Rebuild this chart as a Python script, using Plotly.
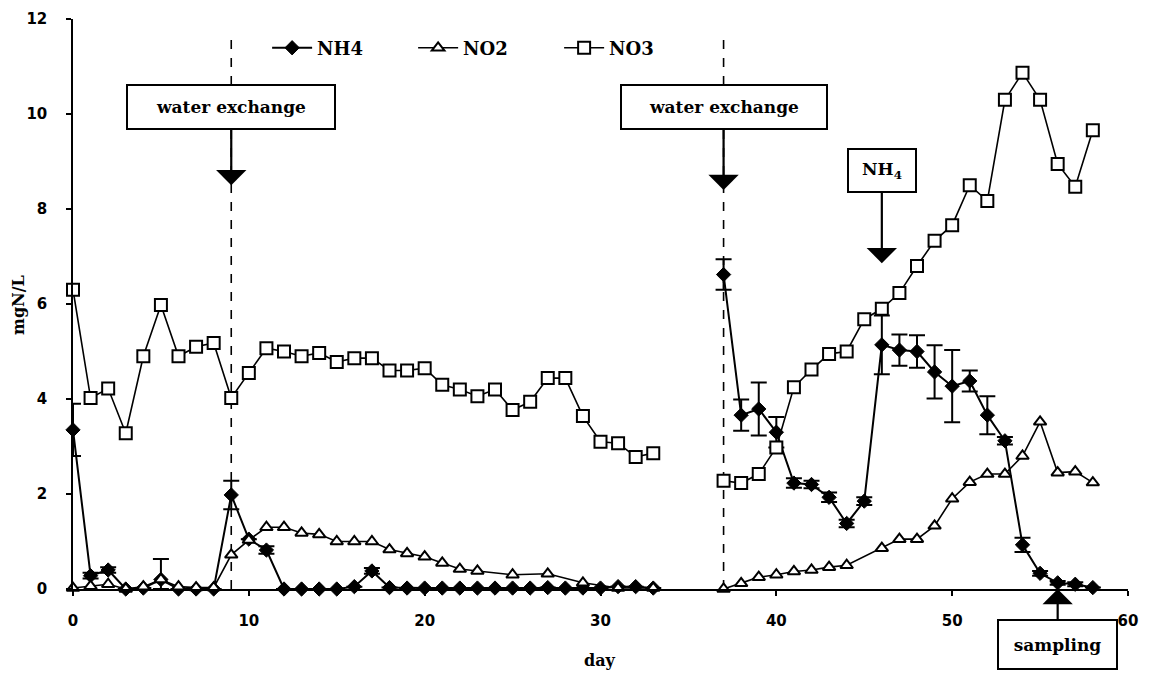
import plotly.graph_objects as go

# ---------------- data ----------------
nh4_days = list(range(0, 34)) + [None] + list(range(37, 59))
nh4_vals = [3.35, 0.28, 0.40, 0.00, 0.02, 0.20, 0.00, 0.00, 0.00, 1.98,
            1.05, 0.82, 0.00, 0.00, 0.00, 0.00, 0.05, 0.38, 0.03, 0.02,
            0.02, 0.02, 0.02, 0.02, 0.02, 0.02, 0.02, 0.03, 0.02, 0.02,
            0.02, 0.05, 0.05, 0.02,
            None,
            6.62, 3.66, 3.79, 3.30, 2.23, 2.20, 1.93, 1.38, 1.85, 5.14,
            5.03, 5.00, 4.57, 4.27, 4.38, 3.66, 3.12, 0.93, 0.33, 0.13,
            0.10, 0.03]
nh4_err_plus = [0.55, 0.06, 0.06, 0, 0, 0.43, 0, 0, 0, 0.30,
                0, 0.08, 0, 0, 0, 0, 0, 0.06, 0, 0,
                0, 0, 0, 0, 0, 0, 0, 0, 0, 0,
                0, 0, 0, 0,
                0,
                0.32, 0.33, 0.56, 0.32, 0.10, 0.08, 0.10, 0.08, 0.08, 0.62,
                0.33, 0.34, 0.56, 0.76, 0.22, 0.40, 0.08, 0.15, 0.05, 0.04,
                0.04, 0]
nh4_err_minus = [0.55, 0.06, 0.06, 0, 0, 0.20, 0, 0, 0, 0.30,
                 0, 0.08, 0, 0, 0, 0, 0, 0.06, 0, 0,
                 0, 0, 0, 0, 0, 0, 0, 0, 0, 0,
                 0, 0, 0, 0,
                 0,
                 0.32, 0.33, 0.56, 0.32, 0.10, 0.08, 0.10, 0.08, 0.08, 0.62,
                 0.33, 0.34, 0.56, 0.76, 0.22, 0.40, 0.08, 0.15, 0.05, 0.04,
                 0.04, 0]

no2_days = (list(range(0, 24)) + [25, 27, 29, 31, 33] + [None]
            + list(range(37, 45)) + list(range(46, 59)))
no2_vals = [0.02, 0.06, 0.10, 0.00, 0.05, 0.20, 0.05, 0.03, 0.03, 0.72,
            1.03, 1.30, 1.30, 1.18, 1.15, 1.00, 1.00, 1.00, 0.83, 0.75,
            0.68, 0.55, 0.42, 0.38,
            0.30, 0.32, 0.13, 0.02, 0.02,
            None,
            0.00, 0.12, 0.25, 0.30, 0.37, 0.40, 0.46, 0.50,
            0.86, 1.05, 1.05, 1.33, 1.90, 2.25, 2.42, 2.42, 2.80, 3.52,
            2.45, 2.47, 2.24]

no3_days = list(range(0, 34)) + [None] + list(range(37, 59))
no3_vals = [6.30, 4.02, 4.22, 3.28, 4.90, 5.98, 4.90, 5.10, 5.18, 4.02,
            4.55, 5.07, 5.00, 4.90, 4.97, 4.78, 4.86, 4.86, 4.60, 4.60,
            4.65, 4.30, 4.20, 4.06, 4.20, 3.77, 3.94, 4.44, 4.44, 3.64,
            3.10, 3.07, 2.78, 2.86,
            None,
            2.28, 2.23, 2.42, 2.98, 4.25, 4.62, 4.95, 5.00, 5.68, 5.90,
            6.23, 6.80, 7.33, 7.66, 8.50, 8.17, 10.30, 10.87, 10.30, 8.95,
            8.47, 9.66]

exchange_days = [9, 37]
nh4_addition_day = 46
sampling_day = 56

x_ticks = [0, 10, 20, 30, 40, 50, 60]
y_ticks = [0, 2, 4, 6, 8, 10, 12]

# ---------------- figure ----------------
SERIF = "DejaVu Serif"
SANS = "DejaVu Sans"

fig = go.Figure()

fig.add_trace(go.Scatter(
    x=nh4_days, y=nh4_vals, name="NH4", mode="lines+markers",
    line=dict(color="black", width=2),
    marker=dict(symbol="diamond", size=11, color="black",
                line=dict(color="black", width=1)),
    error_y=dict(type="data", symmetric=False, array=nh4_err_plus,
                 arrayminus=nh4_err_minus, color="black",
                 thickness=2, width=8),
    cliponaxis=False, connectgaps=False,
))
fig.add_trace(go.Scatter(
    x=no2_days, y=no2_vals, name="NO2", mode="lines+markers",
    line=dict(color="black", width=1.6),
    marker=dict(symbol="triangle-up", size=11, color="white",
                line=dict(color="black", width=2)),
    cliponaxis=False, connectgaps=False,
))
fig.add_trace(go.Scatter(
    x=no3_days, y=no3_vals, name="NO3", mode="lines+markers",
    line=dict(color="black", width=1.6),
    marker=dict(symbol="square", size=12, color="white",
                line=dict(color="black", width=2)),
    cliponaxis=False, connectgaps=False,
))

# dashed water-exchange lines
for d in exchange_days:
    fig.add_shape(type="line", xref="x", yref="y", x0=d, x1=d, y0=0, y1=11.7,
                  line=dict(color="black", width=1.6, dash="dash"), layer="below")

box_font = dict(family=SERIF, size=17, color="black", weight="bold")
ann_common = dict(showarrow=True, arrowhead=1, arrowsize=2.3, arrowwidth=2.2,
                  arrowcolor="black", bordercolor="black", borderwidth=2,
                  bgcolor="white", font=box_font, xref="x", yref="y",
                  axref="pixel", ayref="pixel")

fig.add_annotation(x=exchange_days[0], y=8.5, ax=0, ay=-78,
                   text="water exchange", width=200, height=36, borderpad=3,
                   **ann_common)
fig.add_annotation(x=exchange_days[1], y=8.4, ax=0, ay=-83,
                   text="water exchange", width=198, height=36, borderpad=3,
                   **ann_common)
fig.add_annotation(x=nh4_addition_day, y=6.86, ax=0, ay=-93,
                   text="NH<sub>4</sub>", width=62, height=37, borderpad=2,
                   **ann_common)
fig.add_annotation(x=sampling_day, y=0, ax=0, ay=55,
                   text="sampling", width=113, height=43, borderpad=2,
                   **ann_common)

# axis titles
fig.add_annotation(xref="paper", yref="paper", x=(600 - 73) / 1055, y=-(660 - 589) / 570,
                   text="day", showarrow=False, xanchor="center", yanchor="middle",
                   font=dict(family=SERIF, size=16, color="black", weight="bold"))
fig.add_annotation(xref="paper", yref="paper", x=-(73 - 18) / 1055, y=(589 - 305) / 570,
                   text="mgN/L", showarrow=False, textangle=-90,
                   xanchor="center", yanchor="middle",
                   font=dict(family=SERIF, size=16, color="black", weight="bold"))

# the page body has an 8px margin, so the figure is placed at (8, 8)
fig.update_layout(
    width=1145, height=666,
    margin=dict(l=65, r=25, t=11, b=85, autoexpand=False),
    paper_bgcolor="white", plot_bgcolor="white",
    showlegend=True,
    legend=dict(orientation="h", x=0.184, xanchor="left", y=0.949, yanchor="middle",
                font=dict(family=SERIF, size=18, color="black", weight="bold"),
                bgcolor="rgba(0,0,0,0)", entrywidth=91, entrywidthmode="pixels",
                itemwidth=40),
    font=dict(family=SANS, color="black"),
)

fig.update_xaxes(
    range=[0, 60], tickvals=x_ticks, ticktext=[str(v) for v in x_ticks],
    showline=True, linecolor="black", linewidth=1.5,
    ticks="outside", ticklen=5, tickwidth=1.5, tickcolor="black",
    showgrid=False, zeroline=False, automargin=False,
    tickfont=dict(family=SANS, size=15, color="black", weight="bold"),
    ticklabelstandoff=12,
)
fig.update_yaxes(
    range=[0, 12], tickvals=y_ticks, ticktext=[str(v) for v in y_ticks],
    showline=True, linecolor="black", linewidth=1.5,
    ticks="outside", ticklen=5, tickwidth=1.5, tickcolor="black",
    showgrid=False, zeroline=False, automargin=False,
    tickfont=dict(family=SANS, size=15, color="black", weight="bold"),
    ticklabelstandoff=16,
)

fig.write_html("out.html")
